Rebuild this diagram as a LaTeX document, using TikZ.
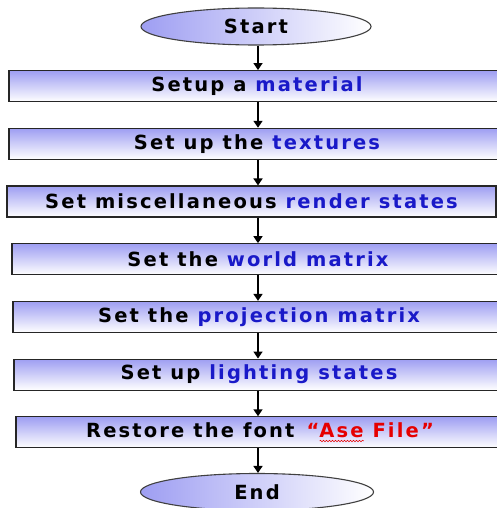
\documentclass[tikz,border=0pt]{standalone}
\usepackage{fontspec}
\setmainfont{DejaVu Sans}[LetterSpace=11]
\usepackage{tikz}
\usetikzlibrary{arrows.meta, positioning, shapes.geometric, decorations.pathmorphing}
\definecolor{lav}{RGB}{158,158,242}
\definecolor{kw}{RGB}{25,25,200}
\definecolor{ase}{RGB}{230,0,0}
\newcommand{\kw}[1]{\textcolor{kw}{#1}}
% red wavy underline
\newcommand{\wavy}[1]{\setbox0\hbox{#1}\rlap{\tikz[baseline=0pt, x=1pt, y=1pt]
  \draw[ase, line width=0.5pt, decorate,
    decoration={snake, amplitude=0.8pt, segment length=3pt}]
    (0,-3.5) -- (\the\wd0,-3.5);}#1}

\begin{document}
\begin{tikzpicture}[x=1pt, y=-1pt,
  font=\fontsize{19.5}{23}\selectfont\bfseries,
  every node/.style={inner sep=0pt},
  term/.style={ellipse, draw=black!75, line width=1.1pt, minimum width=230pt,
    minimum height=37pt, left color=lav, right color=white},
  box/.style={rectangle, draw=black!85, line width=1.2pt, minimum width=#1,
    minimum height=31pt, top color=lav, bottom color=white},
  arr/.style={-{Triangle[length=7pt,width=9pt]}, line width=1.6pt},
  node distance=25.5pt]
\useasboundingbox (0,0) rectangle (497,508);
\clip (0,0) rectangle (497,508);
\fill[white] (0,0) rectangle (497,508);
\node[term] (start) at (256,26.5) {Start};
\node[box=496pt, below=24.5pt of start, xshift=1pt] (b1) {Setup a \kw{material}};
\node[box=496pt, below=of b1] (b2) {Set up the \kw{textures}};
\node[box=489pt, below=of b2, xshift=-5.5pt] (b3) {Set miscellaneous \kw{render states}};
\node[box=492pt, below=of b3, xshift=6.5pt] (b4) {Set the \kw{world matrix}};
\node[box=492pt, below=of b4, xshift=1pt] (b5) {Set the \kw{projection matrix}};
\node[box=490pt, below=of b5] (b6) {Set up \kw{lighting states}};
\node[box=488pt, below=of b6, xshift=1pt] (b7) {Restore the font\hspace{12pt}\textcolor{ase}{“\wavy{Ase} File”}};
\node[term, minimum width=233pt, below=24.5pt of b7, xshift=-3pt] (fin) {End};
% arrows, all on the same vertical
\foreach \a/\b in {start/b1, b1/b2, b2/b3, b3/b4, b4/b5, b5/b6, b6/b7, b7/fin}
  \draw[arr] ([xshift=2pt]\a.south -| start.south) -- ([xshift=2pt]\b.north -| start.north);
\end{tikzpicture}
\end{document}
